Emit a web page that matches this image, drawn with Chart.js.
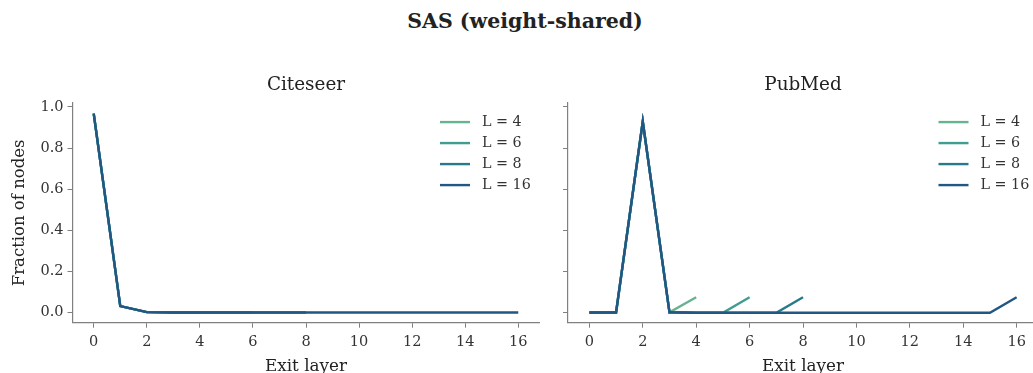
<!DOCTYPE html>
<html>
<head>
<meta charset="utf-8">
<script src="https://cdn.jsdelivr.net/npm/chart.js@4"></script>
<style>
  body { margin: 0; overflow: hidden; background: #fff; width: 1033px; height: 373px; position: relative; }
  #title { position: absolute; top: 9px; left: 0; width: 1050px; text-align: center;
           font: bold 20.5px "DejaVu Serif"; color: #222; }
  .box { position: absolute; top: 0; height: 373px; }
</style>
</head>
<body>
<div id="title">SAS (weight-shared)</div>
<div class="box" style="left:0;width:560px"><canvas id="citeseer"></canvas></div>
<div class="box" style="left:560px;width:480px"><canvas id="pubmed"></canvas></div>
<script>
const layers = [0, 1, 2, 3, 4, 5, 6, 7, 8, 9, 10, 11, 12, 13, 14, 15, 16];
const seriesNames = ["L = 4", "L = 6", "L = 8", "L = 16"];
const seriesColors = ["#68b38f", "#419c91", "#27798c", "#225683"];
const yTicks = [0, 0.2, 0.4, 0.6, 0.8, 1.0];

// Citeseer
const citeL4 = [0.967, 0.032, 0.003, 0.001, 0.001];
const citeL6 = [0.967, 0.032, 0.003, 0.001, 0.001, 0.001, 0.001];
const citeL8 = [0.967, 0.032, 0.003, 0.001, 0.001, 0.001, 0.001, 0.001, 0.001];
const citeL16 = [0.967, 0.032, 0.003, 0.001, 0.001, 0.001, 0.001, 0.001, 0.001, 0.001, 0.001, 0.001, 0.001, 0.001, 0.001, 0.001, 0.001];

// PubMed
const pubL4 = [0.001, 0.001, 0.929, 0.002, 0.075];
const pubL6 = [0.001, 0.001, 0.929, 0.002, 0.0, 0.0, 0.075];
const pubL8 = [0.001, 0.001, 0.929, 0.002, 0.0, 0.0, 0.0, 0.0, 0.075];
const pubL16 = [0.001, 0.001, 0.929, 0.002, 0.0, 0.0, 0.0, 0.0, 0.0, 0.0, 0.0, 0.0, 0.0, 0.0, 0.0, 0.0, 0.075];

const font = "DejaVu Serif";
const textColor = "#333";
const spineColor = "#808080";

const toPoints = (vals) => vals.map((v, i) => ({ x: layers[i], y: v }));

// legend drawn inside the plot area, top right
const innerLegend = {
  id: "innerLegend",
  afterDatasetsDraw(chart, args, opts) {
    const ctx = chart.ctx;
    const area = chart.chartArea;
    ctx.save();
    ctx.font = "14.3px " + font;
    ctx.textBaseline = "middle";
    chart.data.datasets.forEach((ds, i) => {
      const y = area.top + 19 + i * 21;
      const x = area.right - opts.offset;
      ctx.strokeStyle = ds.borderColor;
      ctx.lineWidth = 2.4;
      ctx.beginPath();
      ctx.moveTo(x, y);
      ctx.lineTo(x + 30, y);
      ctx.stroke();
      ctx.fillStyle = textColor;
      ctx.fillText(ds.label, x + 42, y);
    });
    ctx.restore();
  }
};

function makeChart(id, title, series, showY, legendOffset) {
  const datasets = series.map((vals, i) => ({
    label: seriesNames[i],
    data: toPoints(vals),
    borderColor: seriesColors[i],
    backgroundColor: seriesColors[i],
    borderWidth: 2.4,
    pointRadius: 0,
    tension: 0,
    order: series.length - i
  }));
  return new Chart(document.getElementById(id), {
    type: "line",
    data: { datasets },
    plugins: [innerLegend],
    options: {
      responsive: true,
      maintainAspectRatio: false,
      animation: false,
      layout: { padding: { left: 0, right: showY ? 20.5 : 2, top: 0, bottom: 0 } },
      plugins: {
        legend: { display: false },
        tooltip: { enabled: false },
        innerLegend: { offset: legendOffset },
        title: {
          display: true,
          fullSize: false,
          text: title,
          color: "#222",
          font: { family: font, size: 18.4, weight: "normal" },
          padding: { top: 74, bottom: 7 }
        }
      },
      scales: {
        x: {
          type: "linear",
          min: -0.8,
          max: 16.8,
          afterFit: (s) => { s.height = 50.3; },
          afterBuildTicks: (s) => { s.ticks = layers.filter((v) => v % 2 === 0).map((v) => ({ value: v })); },
          grid: { display: true, drawOnChartArea: false, drawTicks: true, tickLength: 5, color: spineColor, lineWidth: 1 },
          border: { display: true, color: spineColor, width: 1.2 },
          ticks: { color: textColor, font: { family: font, size: 14.5 }, padding: 6, maxRotation: 0 },
          title: { display: true, text: "Exit layer", color: "#222", font: { family: font, size: 16.8 }, padding: { top: 0, bottom: -4 } }
        },
        y: {
          min: -0.0485,
          max: 1.0185,
          afterFit: (s) => { s.width = showY ? 72.5 : 8; },
          afterBuildTicks: (s) => { s.ticks = yTicks.map((v) => ({ value: v })); },
          grid: { display: true, drawOnChartArea: false, drawTicks: true, tickLength: 5, color: spineColor, lineWidth: 1 },
          border: { display: true, color: spineColor, width: 1.2 },
          ticks: { display: showY, color: textColor, font: { family: font, size: 14.5 }, padding: 4,
                   callback: (v) => v.toFixed(1) },
          title: { display: showY, text: "Fraction of nodes", color: "#222", font: { family: font, size: 16.5 }, padding: { top: 10, bottom: 0 } }
        }
      }
    }
  });
}

makeChart("citeseer", "Citeseer", [citeL4, citeL6, citeL8, citeL16], true, 99.5);
makeChart("pubmed", "PubMed", [pubL4, pubL6, pubL8, pubL16], false, 99.5);
</script>
</body>
</html>
